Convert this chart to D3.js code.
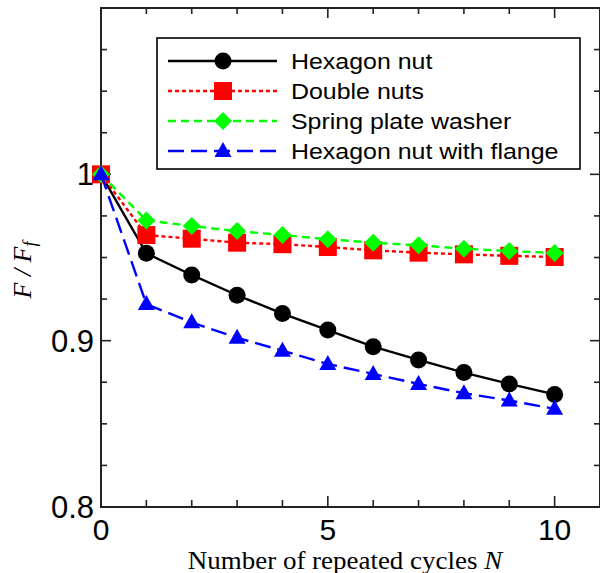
<!DOCTYPE html>
<html>
<head>
<meta charset="utf-8">
<script src="https://cdn.jsdelivr.net/npm/d3@7"></script>
<style>
  html, body { margin: 0; padding: 0; background: #fff; }
  svg { display: block; }
</style>
</head>
<body>
<svg id="chart" width="600" height="573"></svg>
<script>
// Repeated loosening cycles and the remaining clamp-force ratio F / Ff
const cycles = [0, 1, 2, 3, 4, 5, 6, 7, 8, 9, 10];
const hexagonNut   = [1.000, 0.9525, 0.9395, 0.9273, 0.9163, 0.9064, 0.8964, 0.8884, 0.8808, 0.8740, 0.8677];
const doubleNuts   = [1.000, 0.9635, 0.9613, 0.9589, 0.9580, 0.9563, 0.9543, 0.9529, 0.9519, 0.9510, 0.9503];
const springWasher = [1.000, 0.9723, 0.9689, 0.9659, 0.9635, 0.9610, 0.9589, 0.9573, 0.9553, 0.9539, 0.9527];
const flangeNut    = [1.000, 0.9220, 0.9110, 0.9017, 0.8940, 0.8860, 0.8800, 0.8740, 0.8684, 0.8640, 0.8590];

const seriesNames = ["Hexagon nut", "Double nuts", "Spring plate washer", "Hexagon nut with flange"];
const xTickLabels = [0, 5, 10];
const yTickLabels = [0.8, 0.9, 1];

const series = [
  { name: seriesNames[0], values: hexagonNut,   color: "#000000", dash: null,    marker: "circle" },
  { name: seriesNames[1], values: doubleNuts,   color: "#ff0000", dash: "4,3",   marker: "square" },
  { name: seriesNames[2], values: springWasher, color: "#00ff00", dash: "8,5",   marker: "diamond" },
  { name: seriesNames[3], values: flangeNut,    color: "#0000ff", dash: "16,7",  marker: "triangle" }
];

const svg = d3.select("#chart");
const plotLeft = 101, plotRight = 600, plotTop = 8, plotBottom = 507;

const x = d3.scaleLinear().domain([0, 11]).range([plotLeft, plotRight]);
const y = d3.scaleLinear().domain([0.8, 1.1]).range([plotBottom, plotTop]);

// Frame ticks (all pointing inward)
const frame = svg.append("g").attr("stroke", "#222").attr("stroke-width", 1.6);
const xMinor = d3.range(0, 11, 1);
const yMinor = d3.range(0.8, 1.1001, 0.025);
xMinor.forEach(v => {
  const major = v % 5 === 0;
  const len = major ? 11 : 7;
  frame.append("line").attr("x1", x(v)).attr("x2", x(v)).attr("y1", plotBottom).attr("y2", plotBottom - len);
  frame.append("line").attr("x1", x(v)).attr("x2", x(v)).attr("y1", plotTop).attr("y2", plotTop + (major ? 10 : 6));
});
yMinor.forEach(v => {
  const major = Math.abs(v * 10 - Math.round(v * 10)) < 1e-6;
  const len = major ? 10 : 6;
  frame.append("line").attr("x1", plotLeft).attr("x2", plotLeft + len).attr("y1", y(v)).attr("y2", y(v));
  frame.append("line").attr("x1", plotRight).attr("x2", plotRight - len).attr("y1", y(v)).attr("y2", y(v));
});
frame.append("rect")
  .attr("x", plotLeft).attr("y", plotTop)
  .attr("width", plotRight - plotLeft).attr("height", plotBottom - plotTop)
  .attr("fill", "none").attr("stroke-width", 2);

// Tick labels
const tickFont = "'Liberation Sans', Arial, sans-serif";
svg.append("g").selectAll("text").data(xTickLabels).join("text")
  .attr("x", d => x(d)).attr("y", 540)
  .attr("text-anchor", "middle")
  .attr("font-family", tickFont).attr("font-size", 30)
  .attr("fill", "#000")
  .text(d => d);
svg.append("g").selectAll("text").data(yTickLabels).join("text")
  .attr("x", 94).attr("y", d => y(d) + 11)
  .attr("text-anchor", "end")
  .attr("font-family", tickFont).attr("font-size", 31)
  .attr("fill", "#000")
  .text(d => d);

// Axis titles
const xt = svg.append("text")
  .attr("transform", "translate(345,568.5) scale(1.1,1)")
  .attr("text-anchor", "middle")
  .attr("font-family", "'Liberation Serif', 'Times New Roman', serif")
  .attr("font-size", 24.5).attr("fill", "#000");
xt.append("tspan").text("Number of repeated cycles ");
xt.append("tspan").attr("font-style", "italic").text("N");

const yt = svg.append("text")
  .attr("transform", "translate(31,270) rotate(-90)")
  .attr("text-anchor", "middle")
  .attr("font-family", "'Liberation Serif', 'Times New Roman', serif")
  .attr("font-size", 26).attr("font-style", "italic").attr("fill", "#000");
yt.append("tspan").text("F / F");
yt.append("tspan").attr("font-size", 18).attr("dy", 5).text("f");

// Marker drawing
function drawMarker(g, kind, cx, cy, color) {
  if (kind === "circle") {
    g.append("circle").attr("cx", cx).attr("cy", cy).attr("r", 8.5).attr("fill", color);
  } else if (kind === "square") {
    g.append("rect").attr("x", cx - 9).attr("y", cy - 9).attr("width", 18).attr("height", 18).attr("fill", color);
  } else if (kind === "diamond") {
    g.append("path").attr("d", `M${cx},${cy - 9}L${cx + 9},${cy}L${cx},${cy + 9}L${cx - 9},${cy}Z`).attr("fill", color);
  } else if (kind === "triangle") {
    g.append("path").attr("d", `M${cx},${cy - 9}L${cx + 8.5},${cy + 6}L${cx - 8.5},${cy + 6}Z`).attr("fill", color);
  }
}

// Data series
const line = d3.line().x((d, i) => x(cycles[i])).y(d => y(d));
const plot = svg.append("g");
series.forEach(s => {
  const g = plot.append("g");
  g.append("path")
    .attr("d", line(s.values))
    .attr("fill", "none")
    .attr("stroke", s.color)
    .attr("stroke-width", 2.4)
    .attr("stroke-dasharray", s.dash);
  s.values.forEach((v, i) => drawMarker(g, s.marker, x(cycles[i]), y(v), s.color));
});

// Legend
const legend = svg.append("g");
legend.append("rect")
  .attr("x", 157).attr("y", 38).attr("width", 423).attr("height", 131)
  .attr("fill", "#fff").attr("stroke", "#000").attr("stroke-width", 1.6);
series.forEach((s, i) => {
  const ry = 61 + i * 30;
  legend.append("line")
    .attr("x1", 168).attr("x2", 277).attr("y1", ry).attr("y2", ry)
    .attr("stroke", s.color).attr("stroke-width", 2.4)
    .attr("stroke-dasharray", s.dash);
  drawMarker(legend, s.marker, 223, ry, s.color);
  legend.append("text")
    .attr("transform", `translate(291,${ry + 8}) scale(1.16,1)`)
    .attr("font-family", tickFont).attr("font-size", 21.5)
    .attr("fill", "#000")
    .text(s.name);
});
</script>
</body>
</html>
